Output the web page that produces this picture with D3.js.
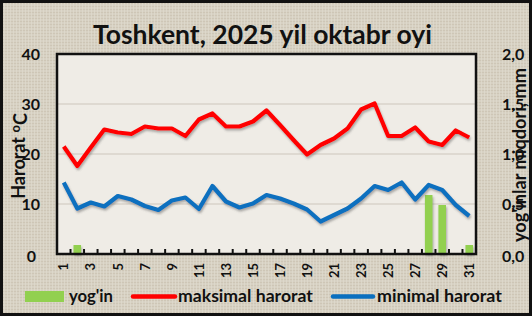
<!DOCTYPE html>
<html>
<head>
<meta charset="utf-8">
<script src="https://cdn.jsdelivr.net/npm/d3@7"></script>
<style>
  html, body { margin: 0; padding: 0; background: #fff; }
  svg { display: block; }
  text { font-family: Lato, "Open Sans", sans-serif; font-weight: bold; fill: #111; }
</style>
</head>
<body>
<svg id="chart" width="532" height="316"></svg>
<script>
// ---- data ----
const days = d3.range(1, 32);
const tMax = [21.5, 17.6, 21.3, 24.9, 24.3, 24.0, 25.5, 25.1, 25.1, 23.6, 26.9, 28.1, 25.5, 25.5, 26.5, 28.7,
              25.8, 22.8, 19.9, 21.8, 23.1, 25.1, 28.9, 30.1, 23.6, 23.6, 25.3, 22.5, 21.8, 24.7, 23.3];
const tMin = [14.3, 9.1, 10.3, 9.5, 11.6, 10.9, 9.6, 8.8, 10.7, 11.3, 9.0, 13.6, 10.5, 9.3, 10.1, 11.8,
              11.1, 10.1, 8.9, 6.5, 7.8, 9.1, 11.1, 13.6, 12.8, 14.3, 10.9, 13.8, 12.8, 9.8, 7.6];
const precip = [0, 0.09, 0, 0, 0, 0, 0, 0, 0, 0, 0, 0, 0, 0, 0, 0,
                0, 0, 0, 0, 0, 0, 0, 0, 0, 0, 0, 0.59, 0.49, 0, 0.09];
const leftTicks = [0, 10, 20, 30, 40];
const rightTicks = [0, 0.5, 1.0, 1.5, 2.0];
const xTickDays = days.filter(d => d % 2 === 1);
const titleText = "Toshkent, 2025 yil oktabr oyi";
const leftTitle = "Harorat ";
const rightTitle = "yog'inlar miqdori, mm";
const legendItems = ["yog'in", "maksimal harorat", "minimal harorat"];

// ---- layout ----
const W = 532, H = 316;
const plot = { l: 57, r: 476, t: 54, b: 254 };
const svg = d3.select("#chart");
const defs = svg.append("defs");

const pat = defs.append("pattern").attr("id", "tex").attr("width", 6).attr("height", 6)
  .attr("patternUnits", "userSpaceOnUse");
pat.append("rect").attr("width", 6).attr("height", 6).attr("fill", "#d7d1c3");
pat.append("path").attr("d", "M0 0.5H6M0 3.5H6").attr("stroke", "#cbc3b2").attr("stroke-width", 0.8);
pat.append("path").attr("d", "M1.5 0V6M4.5 0V6").attr("stroke", "#e0dbcf").attr("stroke-width", 0.7);

const sh = defs.append("filter").attr("id", "shadow").attr("x", "-10%").attr("y", "-10%").attr("width", "130%").attr("height", "140%");
sh.append("feDropShadow").attr("dx", 1).attr("dy", 2).attr("stdDeviation", 1.2)
  .attr("flood-color", "#555").attr("flood-opacity", 0.45);

// background and frame
svg.append("rect").attr("x", 0).attr("y", 0).attr("width", W).attr("height", H).attr("fill", "url(#tex)");
svg.append("rect").attr("x", 1.5).attr("y", 1.5).attr("width", W - 3).attr("height", H - 3)
  .attr("fill", "none").attr("stroke", "#111").attr("stroke-width", 3);

// scales
const x = d3.scaleBand().domain(days).range([plot.l, plot.r]).padding(0);
const xc = d => x(d) + x.bandwidth() / 2;
const yL = d3.scaleLinear().domain([0, 40]).range([plot.b, plot.t]);
const yR = d3.scaleLinear().domain([0, 2]).range([plot.b, plot.t]);

// plot area
svg.append("rect").attr("x", plot.l).attr("y", plot.t).attr("width", plot.r - plot.l).attr("height", plot.b - plot.t)
  .attr("fill", "#efece6");
svg.append("g").selectAll("line").data(leftTicks.filter(v => v > 0 && v < 40)).join("line")
  .attr("x1", plot.l).attr("x2", plot.r).attr("y1", d => yL(d)).attr("y2", d => yL(d))
  .attr("stroke", "#d8d3ca").attr("stroke-width", 1.5);

// bars
const bw = x.step() * 0.56;
svg.append("g").attr("filter", "url(#shadow)").selectAll("rect").data(days.filter((d, i) => precip[i] > 0)).join("rect")
  .attr("x", d => xc(d) - bw / 2).attr("width", bw)
  .attr("y", d => yR(precip[d - 1])).attr("height", d => plot.b - yR(precip[d - 1]))
  .attr("fill", "#92d050");

// lines
const line = (arr, y) => d3.line().x(d => xc(d)).y(d => y(arr[d - 1]))(days);
svg.append("path").attr("d", line(tMax, yL)).attr("fill", "none").attr("stroke", "#ff0000")
  .attr("stroke-width", 4.2).attr("stroke-linejoin", "round").attr("filter", "url(#shadow)");
svg.append("path").attr("d", line(tMin, yL)).attr("fill", "none").attr("stroke", "#0a6fbf")
  .attr("stroke-width", 4.2).attr("stroke-linejoin", "round").attr("filter", "url(#shadow)");

// plot border
svg.append("rect").attr("x", plot.l).attr("y", plot.t).attr("width", plot.r - plot.l).attr("height", plot.b - plot.t)
  .attr("fill", "none").attr("stroke", "#111").attr("stroke-width", 2.5);

// x ticks (inner, between categories)
svg.append("g").selectAll("line").data(d3.range(1, 31)).join("line")
  .attr("x1", i => plot.l + i * x.step()).attr("x2", i => plot.l + i * x.step())
  .attr("y1", plot.b).attr("y2", plot.b - 5).attr("stroke", "#111").attr("stroke-width", 2);

// x tick labels, rotated
svg.append("g").selectAll("text").data(xTickDays).join("text")
  .attr("transform", d => `translate(${xc(d)},${plot.b + 9}) rotate(-90)`)
  .attr("dy", "0.36em").attr("text-anchor", "end")
  .style("font-size", "13px")
  .text(d => d);

// left axis
const la = svg.append("g").attr("transform", "translate(40,0)")
  .call(d3.axisLeft(yL).tickValues(leftTicks).tickSize(0).tickPadding(0).tickFormat(d3.format("d")));
la.select(".domain").remove();
la.selectAll("text").style("font-size", "16px").style("font-family", "Lato, sans-serif").style("font-weight", "bold")
  .attr("fill", "#111").attr("dy", "0.36em");
la.selectAll(".tick").filter(d => d === 0).select("text").attr("x", -4).attr("dy", "0.45em");

// right axis
const ra = svg.append("g").attr("transform", "translate(502,0)")
  .call(d3.axisRight(yR).tickValues(rightTicks).tickSize(0).tickPadding(0)
    .tickFormat(d => d3.format(".1f")(d).replace(".", ",")));
ra.select(".domain").remove();
ra.selectAll("text").style("font-size", "16px").style("font-family", "Lato, sans-serif").style("font-weight", "bold")
  .attr("fill", "#111").attr("dy", "0.36em");
ra.selectAll(".tick").filter(d => d === 0).select("text").attr("dy", "0.45em");

// helper to fit text width
function fit(sel, target, base) {
  sel.style("font-size", base + "px");
  const w = sel.node().getComputedTextLength();
  sel.style("font-size", (base * target / w).toFixed(2) + "px");
}

// title
const t = svg.append("text").attr("x", 262.5).attr("y", 44).attr("text-anchor", "middle").text(titleText);
fit(t, 339, 25);

// left title
const lt = svg.append("text").attr("transform", "translate(25,156) rotate(-90)").attr("text-anchor", "middle")
  .style("font-size", "18px");
lt.append("tspan").text(leftTitle);
lt.append("tspan").attr("dy", "-0.4em").style("font-size", "13px").text("o");
lt.append("tspan").attr("dy", "0.4em").text("C");

// right title
const rt = svg.append("text").attr("transform", "translate(526,155) rotate(-90)").attr("text-anchor", "middle")
  .text(rightTitle);
fit(rt, 174, 16);

// legend
const lg = svg.append("g");
lg.append("rect").attr("x", 25).attr("y", 291).attr("width", 39).attr("height", 11).attr("fill", "#92d050");
lg.append("line").attr("x1", 133).attr("x2", 175).attr("y1", 296.5).attr("y2", 296.5)
  .attr("stroke", "#ff0000").attr("stroke-width", 4.5).attr("stroke-linecap", "round");
lg.append("line").attr("x1", 333).attr("x2", 373).attr("y1", 296.5).attr("y2", 296.5)
  .attr("stroke", "#0a6fbf").attr("stroke-width", 4.5).attr("stroke-linecap", "round");
const lx = [69, 178, 377], lw = [44, 135, 125];
legendItems.forEach((s, i) => {
  const tt = lg.append("text").attr("x", lx[i]).attr("y", 302).text(s);
  fit(tt, lw[i], 17);
});
</script>
</body>
</html>
